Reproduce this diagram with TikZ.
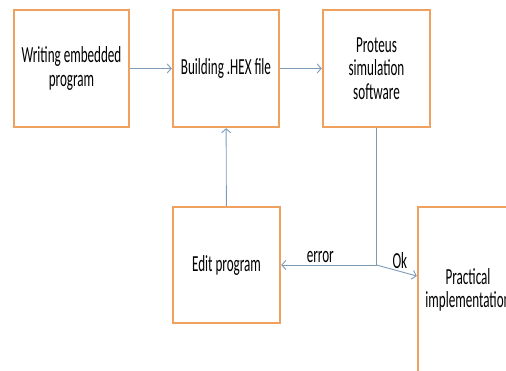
\documentclass[tikz,border=0pt]{standalone}
\usepackage{fontspec}
\setmainfont{Carlito}[FakeStretch=0.57]
\usepackage{xcolor}
\usetikzlibrary{positioning,calc,arrows.meta}

\definecolor{boxorange}{RGB}{240,160,95}
\definecolor{flowblue}{RGB}{125,155,185}

\tikzset{
  stage/.style={draw=boxorange, line width=2.4pt, fill=white, align=center,
    minimum width=107pt, minimum height=117pt, inner sep=2pt,
    font=\fontsize{23}{23.5}\selectfont},
  flow/.style={draw=flowblue, line width=0.9pt, -{Straight Barb[length=4pt,width=9pt]}},
  lbl/.style={font=\fontsize{23}{24}\selectfont, inner sep=2pt}
}

\begin{document}
\begin{tikzpicture}[x=1pt,y=1pt]
    \useasboundingbox (0,0) rectangle (506,371);
    \clip (0,0) rectangle (506,371);

    % Top row
    \node[stage, minimum width=115pt] (write) at (71.5,302.5) {Writing embedded\\program};
    \node[stage, minimum width=106pt] (build) at (226,302.5) {Building .HEX file};
    \node[stage] (proteus) at (376.5,302.5) {Proteus\\simulation\\software};

    % Bottom row
    \node[stage, minimum height=116pt] (edit) at (226.5,106) {Edit program};
    \node[stage, minimum width=100pt, minimum height=166pt] (practical) at (468,81) {Practical\\implementation};

    % Connectors
    \coordinate (split) at (proteus.south |- edit.east);
    \draw[flow] (write) -- (build);
    \draw[flow] (build) -- (proteus);
    \draw[flow] (edit) -- (build);
    \draw[draw=flowblue, line width=0.9pt] (proteus.south) -- (split);
    \draw[flow] (split) -- node[lbl, above, pos=0.59] {error} (edit);
    \draw[flow] (split) -- node[lbl, above, pos=0.58] {Ok} (practical);
\end{tikzpicture}
\end{document}
